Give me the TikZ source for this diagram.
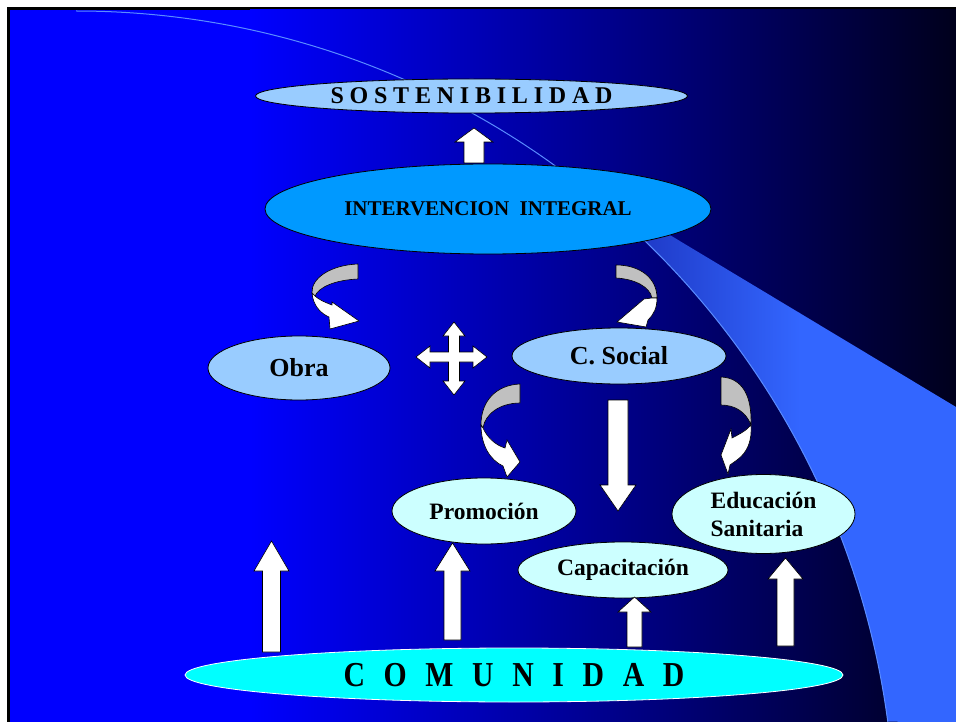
\documentclass[tikz,border=0pt]{standalone}
\usepackage{fontspec}
\setmainfont{Liberation Serif}
\newfontfamily\condfont[FakeStretch=0.85]{Liberation Serif}
\usetikzlibrary{shapes.geometric}
\definecolor{bgblue}{RGB}{0,0,255}
\definecolor{bgdark}{RGB}{0,0,28}
\definecolor{wedgeA}{RGB}{20,35,170}
\definecolor{wedgeB}{RGB}{51,102,255}
\definecolor{arcline}{RGB}{90,140,255}
\definecolor{lightblue}{RGB}{153,204,255}
\definecolor{midblue}{RGB}{0,153,255}
\definecolor{palecyan}{RGB}{204,255,255}
\definecolor{cyanfill}{RGB}{0,255,255}
\definecolor{ribbon}{RGB}{192,192,192}
\newcommand\myUpArrow[6]{\draw[blockarrow] ({#1-#6},#4) -- ({#1-#6},#3) -- ({#1-#5},#3) -- (#1,#2) -- ({#1+#5},#3) -- ({#1+#6},#3) -- ({#1+#6},#4) -- cycle;}
\begin{document}
\begin{tikzpicture}[x=1pt,y=-1pt,
  oval/.style={ellipse, draw=black, line width=0.8pt, inner sep=0pt},
  blockarrow/.style={draw=black, fill=white, line width=0.6pt, line join=miter},
  ribbonback/.style={draw=black, fill=ribbon, line width=0.6pt, line join=round},
  ribbonfront/.style={draw=black, fill=white, line width=0.6pt, line join=miter}]
\useasboundingbox (0,0) rectangle (956,722);
% background
\fill[white] (0,0) rectangle (956,722);
\fill[black] (7,7) rectangle (956,722);
\fill[bgblue] (10,10) rectangle (251,722);
\shade[left color=bgblue, right color=bgdark] (250,10) rectangle (956,722);
% light wedge
\begin{scope}
  \clip (76,830) ++(-54:819) arc[start angle=-54, end angle=-7.6, radius=819] -- (956,722) -- (956,407) -- cycle;
  \shade[left color=wedgeA, right color=wedgeB] (557,150) rectangle (800,722);
  \fill[wedgeB] (799,150) rectangle (956,722);
\end{scope}
% thin arc line
\draw[arcline, line width=1pt] (76,830) ++(-90:819) arc[start angle=-90, end angle=-7.6, radius=819];

% ellipses
\node[oval, fill=lightblue, minimum width=432pt, minimum height=34pt] (sost) at (471.5,96)
  {\bfseries\fontsize{24}{24}\selectfont\makebox[282pt][s]{S\hfill O\hfill S\hfill T\hfill E\hfill N\hfill I\hfill B\hfill I\hfill L\hfill I\hfill D\hfill A\hfill D}};
\node[oval, fill=midblue, minimum width=446pt, minimum height=90pt,
  font=\bfseries\fontsize{21}{24}\selectfont] (integ) at (488,209) {INTERVENCION\ \ INTEGRAL};
\node[oval, fill=lightblue, minimum width=182pt, minimum height=64pt,
  font=\bfseries\fontsize{26}{30}\selectfont] (obra) at (299,368) {Obra};
\node[oval, fill=lightblue, minimum width=214pt, minimum height=56pt,
  font=\bfseries\fontsize{26}{30}\selectfont] (social) at (619,356) {C. Social};
\node[oval, fill=palecyan, minimum width=184pt, minimum height=66pt,
  font=\bfseries\fontsize{23.5}{26}\selectfont] (promo) at (484,511) {Promoción};
\node[oval, fill=palecyan, minimum width=210pt, minimum height=56pt,
  font=\bfseries\fontsize{23.5}{26}\selectfont] (capa) at (623,570) {Capacitación};
\node[oval, fill=palecyan, minimum width=183pt, minimum height=79pt, align=left,
  font=\bfseries\fontsize{23.5}{28}\selectfont] (educ) at (763.5,514) {Educación\\Sanitaria};
\node[oval, draw=white, fill=cyanfill, minimum width=658pt, minimum height=54pt] (comu) at (514,675)
  {\condfont\bfseries\fontsize{35}{36}\selectfont\makebox[341pt][s]{C\hfill O\hfill M\hfill U\hfill N\hfill I\hfill D\hfill A\hfill D}};

% straight block arrows: cx, tip, headbase, bottom, head half width, shaft half width
\myUpArrow{474}{128}{142}{163}{19}{10}
\myUpArrow{271.5}{541}{571}{652}{17.5}{9}
\myUpArrow{452.5}{543}{571}{640}{17.5}{8.5}
\myUpArrow{634.5}{597}{612}{647}{16.5}{7.5}
\myUpArrow{785.5}{558}{579}{646}{17.5}{8.5}
\myUpArrow{618}{511}{485}{400}{18}{10}

% four-way arrow
\draw[blockarrow] (454,322) -- (465,336) -- (459.5,336) -- (459.5,352) -- (473,352) -- (473,346) -- (487,357)
  -- (473,368) -- (473,362) -- (459.5,362) -- (459.5,381) -- (465,381) -- (454,395) -- (443,381)
  -- (448.5,381) -- (448.5,362) -- (430,362) -- (430,368) -- (416,357) -- (430,346) -- (430,352)
  -- (448.5,352) -- (448.5,336) -- (443,336) -- cycle;

% curved arrows
% 1: towards Obra
\draw[ribbonback] (358,264) .. controls (331,265) and (311,278) .. (312,293) -- (315,296)
  .. controls (319,287) and (335,280) .. (358,279) -- cycle;
\draw[ribbonfront] (312,293) .. controls (313,305) and (320,313) .. (329,317) -- (330,329) -- (359,321)
  -- (332,302) -- (332,305) .. controls (324,302) and (318,299) .. (315,296) -- cycle;
% 2: towards C. Social
\draw[ribbonback] (616,265) .. controls (640,265) and (657,278) .. (657,298) -- (652,298)
  .. controls (650,287) and (635,279) .. (616,278) -- cycle;
\draw[ribbonfront] (657,298) .. controls (657,308) and (654,314) .. (648,320) -- (646,327) -- (617,322)
  -- (644,299) -- (652,298) -- cycle;
% 3: towards Promocion
\draw[ribbonback] (520,384) .. controls (497,385) and (481,400) .. (481,425) -- (483,428)
  .. controls (485,414) and (500,403) .. (520,403) -- cycle;
\draw[ribbonfront] (481,425) .. controls (481,445) and (490,460) .. (503,466) -- (507,477) -- (520,462)
  -- (507,440) -- (505,448) .. controls (495,445) and (487,437) .. (483,428) -- cycle;
% 4: towards Educacion
\draw[ribbonback] (721,377) .. controls (742,378) and (752,395) .. (751,425)
  .. controls (746,412) and (735,405) .. (721,405) -- cycle;
\draw[ribbonfront] (751,425) .. controls (752,440) and (748,452) .. (737,460) -- (730,465) -- (728,474)
  -- (721,455) -- (731,429) -- (732,438) .. controls (740,434) and (747,430) .. (751,425) -- cycle;
\end{tikzpicture}
\end{document}
